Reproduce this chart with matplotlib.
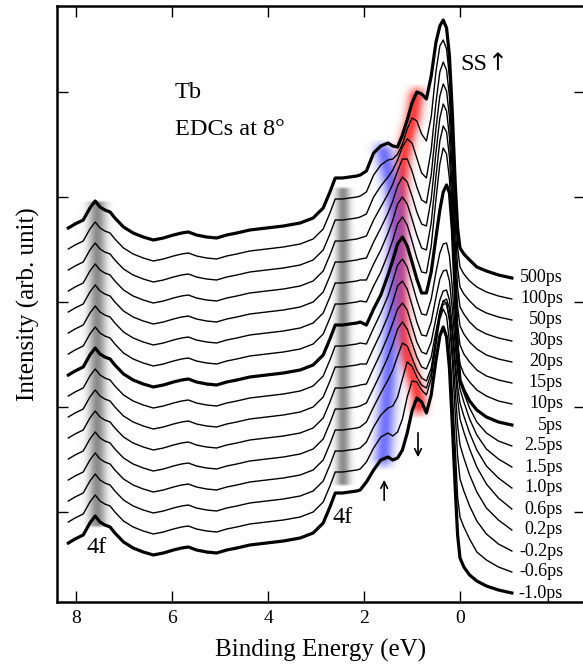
import numpy as np
import matplotlib
matplotlib.use('Agg')
import matplotlib.pyplot as plt

plt.rcParams['font.family'] = ['Liberation Serif', 'DejaVu Serif']

# delay labels, bottom curve first
delays = ['-1.0ps', '-0.6ps', '-0.2ps', '0.2ps', '0.6ps', '1.0ps', '1.5ps', '2.5ps',
          '5ps', '10ps', '15ps', '20ps', '30ps', '50ps', '100ps', '500ps']
bold = [0, 8, 15]

# vertical offset of each EDC (intensity at the 8.16 eV end)
offsets = [59, 80, 101, 122, 143, 164, 185, 206, 227, 248, 269, 290, 311, 332, 353, 374]

# valence band part, same for all delays (relative to offset)
e_far = [8.16, 8.02, 7.85, 7.71, 7.60, 7.50, 7.40, 7.29, 7.19, 7.01, 6.81, 6.60, 6.39,
         6.18, 5.97, 5.80, 5.66, 5.49, 5.28, 5.07, 4.86, 4.65, 4.38, 4.03, 3.68, 3.33,
         3.06, 2.85, 2.71, 2.60, 2.45, 2.30, 2.15, 2.08]
h_far = [0, 4, 8, 20, 27, 21, 18, 16, 10, 1, -5, -9, -12,
         -10, -7, -5, -4, -7, -9, -10, -7, -5, -2, 0, 2, 5,
         10, 20, 36, 50, 50, 51, 52, 53]

# near Fermi level part, one row per delay
e_near = [1.95, 1.8, 1.65, 1.5, 1.4, 1.3, 1.2, 1.1, 1.0, 0.9, 0.8, 0.7, 0.6, 0.5,
          0.42, 0.35, 0.28, 0.22, 0.16, 0.1, 0.05, 0.0, -0.08, -0.2, -0.35, -0.55, -0.8, -1.08]
h_near = [
    [61, 73, 83, 86, 83, 85, 93, 110, 132, 145, 141, 130, 148, 183, 207, 216, 206, 175, 118, 55, 8, -15, -24, -32, -38, -43, -47, -50],
    [60, 74, 85, 89, 86, 90, 103, 125, 141, 140, 132, 127, 143, 178, 203, 213, 206, 180, 130, 75, 25, 5, -5, -17, -30, -38, -45, -50],
    [59, 74, 86, 93, 95, 104, 122, 139, 135, 124, 116, 113, 128, 162, 188, 200, 198, 180, 140, 88, 45, 22, 10, -5, -20, -33, -43, -50],
    [58, 73, 87, 100, 110, 124, 137, 134, 122, 110, 102, 99, 112, 142, 164, 176, 176, 163, 132, 90, 55, 35, 22, 5, -12, -28, -40, -50],
    [56, 71, 86, 102, 115, 130, 137, 130, 116, 102, 92, 90, 102, 128, 148, 158, 160, 150, 125, 90, 60, 40, 27, 10, -8, -25, -39, -50],
    [54, 70, 85, 102, 115, 129, 135, 128, 112, 96, 86, 84, 96, 120, 138, 147, 148, 138, 112, 78, 52, 35, 22, 5, -12, -28, -40, -50],
    [53, 69, 84, 101, 115, 131, 136, 128, 112, 95, 82, 81, 95, 120, 138, 146, 147, 136, 108, 72, 45, 28, 15, -2, -18, -32, -42, -50],
    [52, 68, 83, 100, 115, 131, 137, 129, 113, 96, 82, 81, 97, 124, 143, 152, 153, 140, 108, 65, 32, 15, 3, -12, -26, -37, -45, -50],
    [50, 66, 80, 100, 115, 131, 138, 129, 113, 96, 82, 82, 103, 138, 165, 183, 190, 182, 145, 80, 25, -5, -15, -26, -35, -42, -47, -50],
    [52, 68, 82, 100, 114, 130, 137, 129, 113, 96, 82, 81, 108, 155, 190, 206, 200, 175, 120, 55, 10, -10, -20, -28, -36, -42, -47, -50],
    [53, 69, 83, 100, 113, 129, 136, 129, 114, 98, 85, 83, 110, 157, 192, 207, 201, 176, 120, 52, 8, -12, -21, -29, -37, -43, -47, -50],
    [54, 70, 84, 99, 111, 126, 135, 130, 116, 100, 88, 86, 113, 160, 194, 208, 201, 175, 118, 50, 5, -14, -22, -30, -37, -43, -47, -50],
    [55, 71, 84, 97, 107, 120, 132, 132, 120, 104, 91, 88, 116, 163, 195, 207, 200, 174, 117, 48, 3, -16, -23, -31, -38, -43, -47, -50],
    [56, 73, 84, 93, 100, 110, 123, 131, 127, 112, 97, 92, 120, 168, 198, 208, 200, 173, 116, 47, 2, -17, -24, -31, -38, -43, -47, -50],
    [57, 74, 84, 89, 90, 95, 105, 120, 131, 128, 115, 108, 132, 178, 203, 209, 200, 172, 115, 46, 1, -18, -25, -32, -38, -43, -47, -50],
    [57, 75, 82, 85, 82, 81, 93, 108, 125, 136, 134, 129, 152, 186, 202, 208, 200, 172, 115, 45, 0, -20, -26, -32, -39, -43, -47, -50],
]

# exchange split band positions (eV) for every delay
red_e = [0.86, 0.96, 1.08, 1.17, 1.21, 1.23, 1.25, 1.25, 1.25, 1.25, 1.24, 1.22, 1.18, 1.10, 0.98, 0.90]
blue_e = [1.60, 1.57, 1.54, 1.50, 1.46, 1.42, 1.38, 1.35, 1.33, 1.33, 1.35, 1.38, 1.42, 1.48, 1.55, 1.62]
# 4f levels
f4_e = [7.56, 2.44]

energy = np.array(e_far + e_near)
curves = [np.array(h_far + row) + off for row, off in zip(h_near, offsets)]


def level_at(e0):
    # intensity of every curve at energy e0
    return np.array([np.interp(e0, energy[::-1], c[::-1]) for c in curves])


fig = plt.figure(figsize=(5.83, 6.68), dpi=100)
ax = fig.add_axes([57/583, 66/668, 528/583, 596/668])

#grid for the shaded bands
ee, yy = np.meshgrid(np.linspace(8.4, -0.2, 900), np.linspace(0, 596, 700))


def band(pe, py, sig, lo, hi, soft):
    order = np.argsort(py)
    c = np.interp(yy, np.array(py)[order], np.array(pe)[order])
    a = np.exp(-0.5*((ee-c)/sig)**2)
    taper = np.clip((yy-lo)/soft, 0, 1)*np.clip((hi-yy)/soft, 0, 1)
    return a*taper


red_y = [level_at(e)[i] for i, e in enumerate(red_e)]
blue_y = [level_at(e)[i] for i, e in enumerate(blue_e)]
r = 0.95*band(red_e, red_y, 0.12, red_y[0]-20, red_y[-1]+8, 12)
b = 0.85*band(blue_e, blue_y, 0.14, blue_y[0]-12, blue_y[-1]+6, 12)

#gray 4f stripes
g = np.zeros_like(ee)
f4_sig = [0.13, 0.1]
f4_pad = [(-10, 3), (6, -9)]
for e0, s, pad in zip(f4_e, f4_sig, f4_pad):
    lv = level_at(e0)
    g = np.maximum(g, 0.75*band([e0, e0], [0, 596], s, lv[0]+pad[0], lv[-1]+pad[1], 3))

R = np.array([1.0, 0.2, 0.2])
B = np.array([0.35, 0.35, 1.0])
G = np.array([0.4, 0.4, 0.4])
wb = 1.4*b
tot = r + wb + g + 1e-9
col = (r[..., None]*R + wb[..., None]*B + g[..., None]*G)/tot[..., None]
alpha = 1 - (1-r)*(1-b)*(1-g)
img = np.dstack([col, alpha])
ax.imshow(img, extent=(8.4, -0.2, 0, 596), origin='lower', aspect='auto',
          interpolation='bilinear', zorder=1)

#the EDCs
for i, c in enumerate(curves):
    lw = 2.3 if i in bold else 1.0
    ax.plot(energy, c, color='k', lw=lw, solid_joinstyle='round', zorder=3)
    ax.text(-2.146, c[-1], delays[i], ha='right', va='center', fontsize=13, zorder=4)

ax.text(5.94, 504, 'Tb', fontsize=17.5, ha='left', va='baseline')
ax.text(5.94, 467, 'EDCs at 8°', fontsize=17.5, ha='left', va='baseline')
ax.text(0.0, 532, 'SS', fontsize=17.5, ha='left', va='baseline')
ax.text(-0.56, 532, '↑', fontsize=17, ha='left', va='baseline', family='DejaVu Sans')
ax.text(7.79, 49, '4f', fontsize=17.5, ha='left', va='baseline')
ax.text(2.65, 79, '4f', fontsize=17.5, ha='left', va='baseline')

ax.annotate('', xy=(1.58, 125), xytext=(1.58, 99),
            arrowprops=dict(arrowstyle='->', lw=1.2, color='k', mutation_scale=12))
ax.annotate('', xy=(0.875, 142), xytext=(0.875, 172),
            arrowprops=dict(arrowstyle='->', lw=1.2, color='k', mutation_scale=12))

ax.set_xlim(8.396, -2.604)
ax.set_ylim(0, 596)
ax.set_xticks([8, 6, 4, 2, 0])
ax.set_yticks([90, 195, 300, 405, 510])
ax.tick_params(direction='in', length=8, width=1.0, top=True, right=True,
               labelleft=False, labelsize=14, pad=6)
for sp in ax.spines.values():
    sp.set_linewidth(1.8)

ax.set_xlabel('Binding Energy (eV)', fontsize=18)
ax.xaxis.set_label_coords(0.5, -0.062)
ax.set_ylabel('Intensity (arb. unit)', fontsize=18)
ax.yaxis.set_label_coords(-0.032, 0.5)

plt.savefig('out.png', dpi=100)
